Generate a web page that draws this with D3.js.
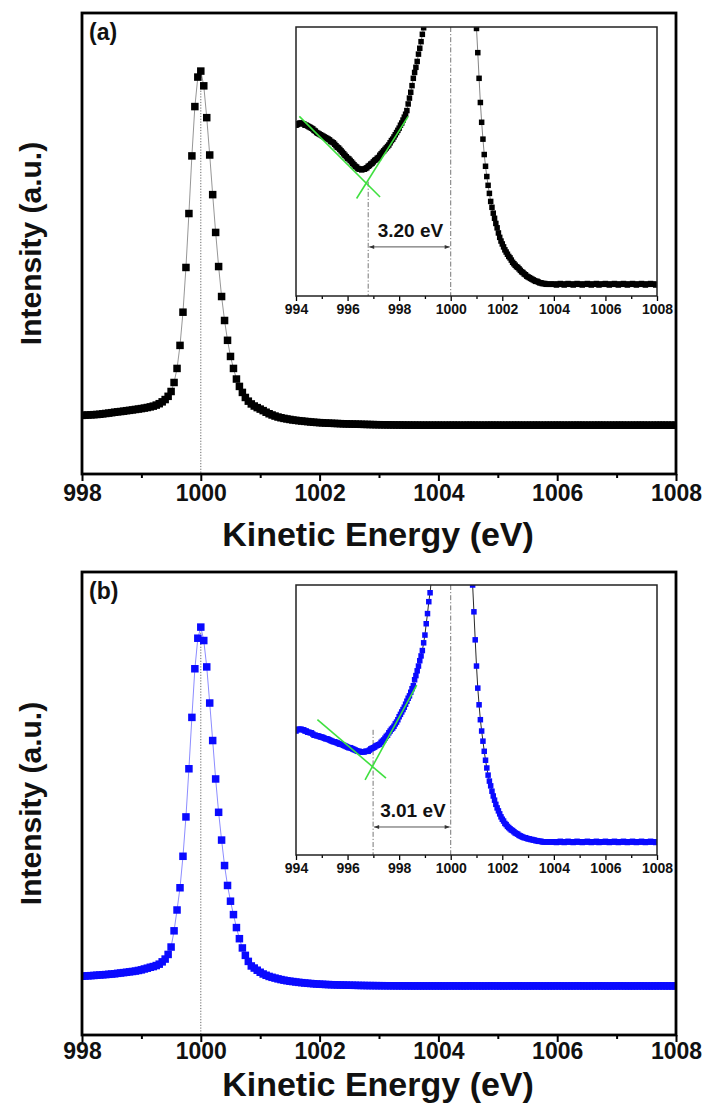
<!DOCTYPE html>
<html><head><meta charset="utf-8">
<script src="https://cdn.jsdelivr.net/npm/d3@7"></script>
<style>
body{margin:0;background:#fff}
svg text{font-family:"Liberation Sans",Arial,sans-serif;font-weight:bold;fill:#111}
</style>
</head><body>
<svg id="chart" width="708" height="1108"></svg>
<script>
// ---------------- DATA ----------------
const energyStart = 994, energyStep = 0.05;   // eV grid of the measured spectrum
const intensityA = [
12.76,12.77,12.78,12.79,12.79,12.78,12.78,12.76,12.76,12.75,
12.74,12.73,12.72,12.71,12.69,12.68,12.66,12.65,12.64,12.63,
12.62,12.61,12.60,12.59,12.58,12.57,12.56,12.54,12.53,12.52,
12.50,12.48,12.46,12.45,12.43,12.41,12.39,12.37,12.35,12.33,
12.31,12.30,12.28,12.26,12.24,12.22,12.20,12.19,12.17,12.16,
12.16,12.15,12.16,12.16,12.17,12.18,12.20,12.21,12.23,12.24,
12.26,12.28,12.29,12.31,12.32,12.35,12.37,12.39,12.41,12.43,
12.45,12.47,12.49,12.52,12.55,12.57,12.60,12.63,12.66,12.69,
12.72,12.76,12.79,12.83,12.87,12.91,12.96,13.05,13.13,13.21,
13.30,13.40,13.48,13.55,13.63,13.73,13.81,13.90,14.00,14.09,
14.19,14.30,14.42,14.56,14.72,14.95,15.25,15.65,16.15,16.85,
17.9,19.85,22.9,27.9,35.1,44.8,56.5,69.0,79.7,86.1,
87.4,84.2,77.3,69.2,60.6,52.4,45.0,38.5,33.3,29.0,
25.5,22.9,20.6,19.0,17.7,16.6,15.8,15.2,14.75,14.40,
14.08,13.75,13.40,13.07,12.80,12.57,12.36,12.20,12.06,11.94,
11.83,11.72,11.64,11.56,11.49,11.42,11.36,11.29,11.23,11.18,
11.14,11.10,11.06,11.03,11.00,10.97,10.95,10.92,10.89,10.87,
10.85,10.83,10.82,10.80,10.78,10.76,10.75,10.73,10.72,10.70,
10.69,10.68,10.67,10.66,10.65,10.64,10.63,10.63,10.62,10.61,
10.61,10.60,10.60,10.60,10.59,10.59,10.59,10.59,10.59,10.59,
10.59,10.59,10.58,10.59,10.59,10.60,10.59,10.59,10.58,10.59,
10.59,10.60,10.59,10.59,10.59,10.58,10.59,10.59,10.60,10.59,
10.59,10.59,10.58,10.59,10.59,10.59,10.60,10.59,10.59,10.58,
10.59,10.59,10.59,10.60,10.59,10.58,10.59,10.59,10.59,10.59,
10.60,10.59,10.59,10.58,10.59,10.59,10.59,10.60,10.59,10.59,
10.58,10.59,10.59,10.59,10.60,10.59,10.59,10.58,10.59,10.59,
10.59,10.60,10.59,10.59,10.58,10.59,10.59,10.59,10.60,10.59,
10.59,10.58,10.59,10.59,10.59,10.60,10.59,10.59,10.59,10.58,
10.59];
const intensityB = [
12.46,12.48,12.49,12.49,12.49,12.48,12.48,12.46,12.46,12.44,
12.44,12.43,12.43,12.41,12.39,12.39,12.38,12.38,12.37,12.36,
12.36,12.35,12.34,12.33,12.33,12.32,12.31,12.30,12.29,12.28,
12.28,12.27,12.26,12.25,12.24,12.24,12.23,12.22,12.21,12.20,
12.19,12.18,12.18,12.17,12.16,12.15,12.14,12.13,12.12,12.12,
12.11,12.11,12.11,12.11,12.12,12.12,12.12,12.14,12.16,12.17,
12.18,12.19,12.21,12.22,12.23,12.24,12.27,12.29,12.31,12.34,
12.37,12.39,12.43,12.46,12.49,12.51,12.54,12.58,12.61,12.65,
12.70,12.74,12.78,12.82,12.86,12.91,12.96,13.01,13.05,13.11,
13.17,13.22,13.32,13.39,13.47,13.55,13.64,13.72,13.81,13.94,
14.07,14.26,14.43,14.63,14.78,15.0,15.3,15.8,16.4,17.4,
19.0,22.5,27.0,31.8,38.6,47.1,57.5,68.6,79.1,85.7,
88.1,85.2,79.5,71.7,63.6,55.3,48.1,42.1,36.6,32.3,
28.9,26.0,23.2,20.8,18.8,17.2,15.9,14.91,14.46,13.99,
13.55,13.18,12.90,12.65,12.46,12.29,12.12,11.97,11.84,11.72,
11.62,11.54,11.45,11.37,11.30,11.23,11.17,11.12,11.07,11.02,
10.98,10.95,10.91,10.89,10.86,10.84,10.82,10.80,10.79,10.77,
10.75,10.74,10.73,10.71,10.70,10.69,10.68,10.67,10.67,10.66,
10.65,10.65,10.64,10.64,10.63,10.63,10.62,10.62,10.61,10.61,
10.61,10.60,10.60,10.60,10.60,10.60,10.60,10.60,10.60,10.60,
10.60,10.60,10.59,10.60,10.60,10.61,10.60,10.60,10.59,10.60,
10.60,10.61,10.60,10.60,10.60,10.59,10.60,10.60,10.61,10.60,
10.60,10.60,10.59,10.60,10.60,10.60,10.61,10.60,10.60,10.59,
10.60,10.60,10.60,10.61,10.60,10.59,10.60,10.60,10.60,10.60,
10.61,10.60,10.60,10.59,10.60,10.60,10.60,10.61,10.60,10.60,
10.59,10.60,10.60,10.60,10.61,10.60,10.60,10.59,10.60,10.60,
10.60,10.61,10.60,10.60,10.59,10.60,10.60,10.60,10.61,10.60,
10.60,10.59,10.60,10.60,10.60,10.61,10.60,10.60,10.60,10.59,
10.60];
const mainTicks = [998, 1000, 1002, 1004, 1006, 1008];
const mainMinorTicks = [999, 1001, 1003, 1005, 1007];
const insetTicks = [994, 996, 998, 1000, 1002, 1004, 1006, 1008];
const insetMinorTicks = [995, 997, 999, 1001, 1003, 1005, 1007];
const panelLabels = ["(a)", "(b)"];
const gapLabels = ["3.20 eV", "3.01 eV"];
const fermiEnergy = 1000;
const onsetEnergy = [996.80, 996.99];
const onsetTopValue = [11.99, 12.48];
const arrowValue = [11.10, 10.85];
const tangentsA = [[[994.13, 12.88], [997.26, 11.78]], [[996.35, 11.76], [998.35, 12.88]]];
const tangentsB = [[[994.83, 12.65], [997.49, 11.67]], [[996.68, 11.64], [998.68, 13.23]]];
const xTitle = "Kinetic Energy (eV)";
const yTitle = "Intensity (a.u.)";

// ---------------- LAYOUT / STYLE ----------------
const panels = [
  {values: intensityA, tangents: tangentsA, label: panelLabels[0], gap: gapLabels[0],
   onset: onsetEnergy[0], onsetTop: onsetTopValue[0], arrow: arrowValue[0],
   box: {x0: 82, x1: 676, y0: 13, y1: 474}, tickBase: 501, titleBase: 546,
   inset: {x0: 296, x1: 657, y0: 27, y1: 296, yDomain: [10.43, 14.10]},
   color: "#000", mainLine: "#8a8a8a", insetLine: "#777"},
  {values: intensityB, tangents: tangentsB, label: panelLabels[1], gap: gapLabels[1],
   onset: onsetEnergy[1], onsetTop: onsetTopValue[1], arrow: arrowValue[1],
   box: {x0: 82, x1: 676, y0: 572, y1: 1035}, tickBase: 1059, titleBase: 1096,
   inset: {x0: 296, x1: 657, y0: 585, y1: 855, yDomain: [10.38, 14.91]},
   color: "#0a0aff", mainLine: "#7f7fff", insetLine: "#111"}
];

const fmt = d3.format("d");
const svg = d3.select("#chart");
const defs = svg.append("defs");
defs.append("marker").attr("id", "arr").attr("viewBox", "0 0 10 10")
  .attr("refX", 10).attr("refY", 5).attr("markerWidth", 7).attr("markerHeight", 5)
  .attr("orient", "auto-start-reverse")
  .append("path").attr("d", "M0,1L10,5L0,9z").attr("fill", "#333");

const points = vals => vals.map((v, i) => ({e: energyStart + i * energyStep, v}));

panels.forEach((p, idx) => {
  const data = points(p.values);
  const b = p.box;
  const g = svg.append("g");
  const x = d3.scaleLinear().domain([998, 1008]).range([b.x0, b.x1]);
  const y = d3.scaleLinear().domain([0, 100]).range([b.y1, b.y0]);

  const cid = "clipMain" + idx;
  defs.append("clipPath").attr("id", cid).append("rect")
    .attr("x", b.x0).attr("y", b.y0).attr("width", b.x1 - b.x0).attr("height", b.y1 - b.y0);
  const plot = g.append("g").attr("clip-path", `url(#${cid})`);

  const mainData = data.filter(d => d.e >= 997.9);
  const peak = d3.max(mainData, d => d.v);
  plot.append("line")
    .attr("x1", x(fermiEnergy)).attr("x2", x(fermiEnergy))
    .attr("y1", y(peak)).attr("y2", b.y1)
    .attr("stroke", "#666").attr("stroke-width", 1).attr("stroke-dasharray", "1.2,1.6");

  plot.append("path").datum(mainData)
    .attr("d", d3.line().x(d => x(d.e)).y(d => y(d.v)))
    .attr("fill", "none").attr("stroke", p.mainLine).attr("stroke-width", 0.9);
  const ms = 7.5;
  plot.selectAll("rect.m").data(mainData).join("rect").attr("class", "m")
    .attr("x", d => x(d.e) - ms / 2).attr("y", d => y(d.v) - ms / 2)
    .attr("width", ms).attr("height", ms).attr("fill", p.color);

  // axes
  const ax = g.append("g").attr("transform", `translate(0,${b.y1})`)
    .call(d3.axisBottom(x).tickValues(mainTicks).tickFormat(fmt).tickSize(7).tickPadding(5));
  ax.select(".domain").remove();
  ax.selectAll(".tick line").attr("stroke", "#000").attr("stroke-width", 2);
  ax.selectAll(".tick text").attr("font-size", 23).attr("y", null).attr("dy", null)
    .attr("transform", `translate(0,${p.tickBase - b.y1})`);
  const axm = g.append("g").attr("transform", `translate(0,${b.y1})`)
    .call(d3.axisBottom(x).tickValues(mainMinorTicks).tickSize(4).tickFormat(""));
  axm.select(".domain").remove();
  axm.selectAll(".tick line").attr("stroke", "#000").attr("stroke-width", 2);

  g.append("rect").attr("x", b.x0).attr("y", b.y0)
    .attr("width", b.x1 - b.x0).attr("height", b.y1 - b.y0)
    .attr("fill", "none").attr("stroke", "#000").attr("stroke-width", 2.8);

  g.append("text").attr("x", (b.x0 + b.x1) / 2 - 1).attr("y", p.titleBase)
    .attr("text-anchor", "middle").attr("font-size", 34).text(xTitle);
  g.append("text").attr("transform", `translate(41,${(b.y0 + b.y1) / 2}) rotate(-90)`)
    .attr("text-anchor", "middle").attr("font-size", 30).text(yTitle);
  g.append("text").attr("x", b.x0 + 7).attr("y", b.y0 + 27)
    .attr("font-size", 23).text(p.label);

  // ---------- inset ----------
  const ib = p.inset;
  const xi = d3.scaleLinear().domain([994, 1008]).range([ib.x0, ib.x1]);
  const yi = d3.scaleLinear().domain(ib.yDomain).range([ib.y1, ib.y0]);
  g.append("rect").attr("x", ib.x0).attr("y", ib.y0)
    .attr("width", ib.x1 - ib.x0).attr("height", ib.y1 - ib.y0).attr("fill", "#fff");
  const icid = "clipInset" + idx;
  defs.append("clipPath").attr("id", icid).append("rect")
    .attr("x", ib.x0).attr("y", ib.y0).attr("width", ib.x1 - ib.x0).attr("height", ib.y1 - ib.y0);
  const ip = g.append("g").attr("clip-path", `url(#${icid})`);

  const dashDot = "5,2,1.2,2";
  ip.append("line").attr("x1", xi(fermiEnergy)).attr("x2", xi(fermiEnergy))
    .attr("y1", ib.y0).attr("y2", ib.y1)
    .attr("stroke", "#777").attr("stroke-width", 1).attr("stroke-dasharray", dashDot);
  ip.append("line").attr("x1", xi(p.onset)).attr("x2", xi(p.onset))
    .attr("y1", yi(p.onsetTop)).attr("y2", ib.y1)
    .attr("stroke", "#777").attr("stroke-width", 1).attr("stroke-dasharray", dashDot);

  ip.append("path").datum(data)
    .attr("d", d3.line().x(d => xi(d.e)).y(d => yi(d.v)))
    .attr("fill", "none").attr("stroke", p.insetLine).attr("stroke-width", 0.9);
  const is = 5.5;
  ip.selectAll("rect.i").data(data).join("rect").attr("class", "i")
    .attr("x", d => xi(d.e) - is / 2).attr("y", d => yi(d.v) - is / 2)
    .attr("width", is).attr("height", is).attr("fill", p.color);

  p.tangents.forEach(t => {
    ip.append("line")
      .attr("x1", xi(t[0][0])).attr("y1", yi(t[0][1]))
      .attr("x2", xi(t[1][0])).attr("y2", yi(t[1][1]))
      .attr("stroke", "#3fe03f").attr("stroke-width", 1.6);
  });

  // arrow and gap label
  const ay = yi(p.arrow);
  g.append("line").attr("x1", xi(p.onset) + 1).attr("x2", xi(fermiEnergy) - 1)
    .attr("y1", ay).attr("y2", ay)
    .attr("stroke", "#555").attr("stroke-width", 1)
    .attr("marker-start", "url(#arr)").attr("marker-end", "url(#arr)");
  g.append("text").attr("x", (xi(p.onset) + xi(fermiEnergy)) / 2 + 1).attr("y", ay - 10)
    .attr("text-anchor", "middle").attr("font-size", 19).text(p.gap);

  const iax = g.append("g").attr("transform", `translate(0,${ib.y1})`)
    .call(d3.axisBottom(xi).tickValues(insetTicks).tickFormat(fmt).tickSize(5).tickPadding(3));
  iax.select(".domain").remove();
  iax.selectAll(".tick line").attr("stroke", "#000").attr("stroke-width", 1.3);
  iax.selectAll(".tick text").attr("font-size", 14);
  const iaxm = g.append("g").attr("transform", `translate(0,${ib.y1})`)
    .call(d3.axisBottom(xi).tickValues(insetMinorTicks).tickSize(3).tickFormat(""));
  iaxm.select(".domain").remove();
  iaxm.selectAll(".tick line").attr("stroke", "#000").attr("stroke-width", 1.3);

  g.append("rect").attr("x", ib.x0).attr("y", ib.y0)
    .attr("width", ib.x1 - ib.x0).attr("height", ib.y1 - ib.y0)
    .attr("fill", "none").attr("stroke", "#222").attr("stroke-width", 1.5);
});
</script>
</body></html>
